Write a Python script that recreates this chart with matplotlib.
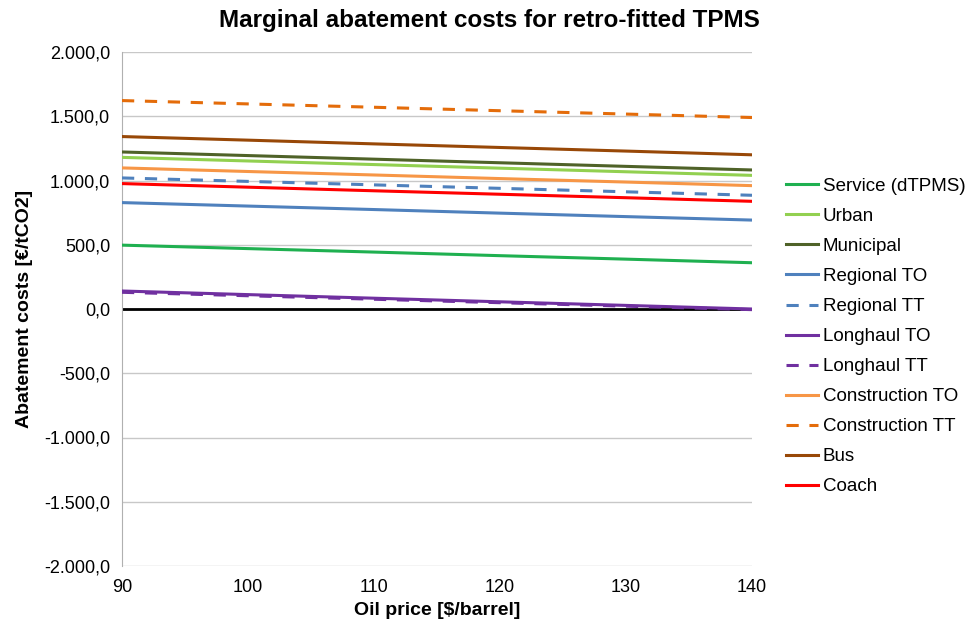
import numpy as np
import matplotlib.pyplot as plt
from matplotlib.ticker import FuncFormatter

plt.rcParams['font.family'] = ['Liberation Sans', 'DejaVu Sans']

oil_price = [90, 100, 110, 120, 130, 140]

series_names = ['Service (dTPMS)', 'Urban', 'Municipal', 'Regional TO', 'Regional TT',
                'Longhaul TO', 'Longhaul TT', 'Construction TO', 'Construction TT',
                'Bus', 'Coach']

service = [497, 470, 443, 415, 388, 360]
urban = [1180, 1152, 1124, 1096, 1068, 1040]
municipal = [1222, 1194, 1166, 1138, 1110, 1082]
regional_to = [828, 801, 774, 746, 719, 692]
regional_tt = [1020, 993, 966, 939, 912, 885]
longhaul_to = [140, 112, 84, 56, 28, 0]
longhaul_tt = [130, 103, 76, 49, 22, -5]
construction_to = [1098, 1070, 1043, 1015, 988, 960]
construction_tt = [1622, 1596, 1570, 1543, 1517, 1490]
bus = [1342, 1314, 1285, 1257, 1229, 1200]
coach = [976, 948, 920, 893, 866, 838]

colors = ['#1fb050', '#92d050', '#4f6228', '#4f81bd', '#4f81bd', '#7030a0',
          '#7030a0', '#f79646', '#e46c0a', '#984807', '#ff0000']
styles = ['-', '-', '-', '-', '--', '-', '--', '-', '--', '-', '-']

data = [service, urban, municipal, regional_to, regional_tt, longhaul_to,
        longhaul_tt, construction_to, construction_tt, bus, coach]

fig = plt.figure(figsize=(9.78, 6.27), dpi=100)
ax = fig.add_axes([122 / 978, 1 - 566 / 627, 630 / 978, 514 / 627])

ax.axhline(0, color='black', lw=2, zorder=2)
for name, vals, c, ls in zip(series_names, data, colors, styles):
    ax.plot(oil_price, vals, color=c, ls=ls, lw=2.2, label=name, zorder=3,
            dashes=(4, 3.5) if ls == '--' else (None, None))

ax.set_xlim(90, 140)
ax.set_ylim(-2000, 2000)
ax.set_xticks([90, 100, 110, 120, 130, 140])
ax.set_yticks(np.arange(-2000, 2001, 500))
ax.yaxis.set_major_formatter(FuncFormatter(
    lambda v, p: '{:,.1f}'.format(v).replace(',', 'X').replace('.', ',').replace('X', '.')))
ax.grid(axis='y', color='#c8c8c8', lw=1)
ax.set_axisbelow(True)
for s in ['top', 'right', 'bottom']:
    ax.spines[s].set_visible(False)
ax.spines['left'].set_color('#b0b0b0')
ax.tick_params(length=0, labelsize=13)
ax.tick_params(axis='y', pad=8.5)
ax.tick_params(axis='x', pad=9)

ax.set_xlabel('Oil price [$/barrel]', fontsize=14, fontweight='bold', labelpad=5)
ax.set_ylabel('Abatement costs [€/tCO2]', fontsize=14, fontweight='bold', labelpad=8)
fig.text(0.5, 1 - 20 / 627, 'Marginal abatement costs for retro-fitted TPMS',
         ha='center', va='center', fontsize=17.5, fontweight='bold')

ax.legend(loc='upper left', bbox_to_anchor=(1.042, 0.77), frameon=False, fontsize=13.5,
          handlelength=1.7, handletextpad=0.25, labelspacing=0.69, borderaxespad=0)

fig.savefig('out.png', dpi=100)
